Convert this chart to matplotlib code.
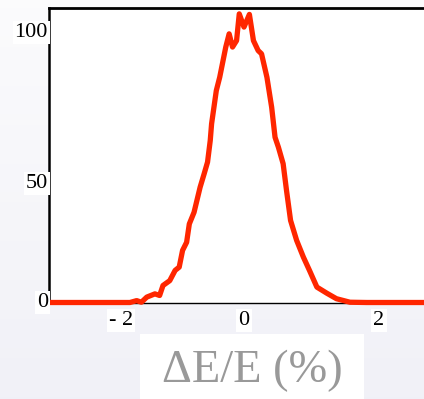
import numpy as np
import matplotlib
matplotlib.use("Agg")
import matplotlib.pyplot as plt
from matplotlib.patches import Rectangle
import matplotlib.transforms as mtransforms

# ---- data ----
de_pct = [-2.89, -1.99, -1.69, -1.59, -1.52, -1.44, -1.32, -1.25, -1.20, -1.10,
          -1.02, -0.96, -0.91, -0.85, -0.81, -0.74, -0.65, -0.59, -0.54, -0.50,
          -0.48, -0.41, -0.36, -0.27, -0.22, -0.17, -0.11, -0.07, 0.00, 0.08,
          0.14, 0.21, 0.26, 0.34, 0.41, 0.46, 0.51, 0.58, 0.63, 0.69,
          0.78, 0.88, 0.97, 1.08, 1.23, 1.37, 1.57, 1.82, 2.67]
counts = [0.0, 0.0, 0.0, 0.7, 0.1, 2.0, 3.2, 2.6, 6.3, 8.1,
          11.9, 13.1, 19.3, 22.3, 29.1, 33.4, 42.7, 47.7, 52.0, 60.0,
          66.2, 78.5, 83.4, 94.6, 99.5, 94.6, 97.0, 106.9, 102.0, 106.7,
          97.0, 93.3, 92.1, 83.4, 72.3, 61.2, 57.5, 51.4, 41.5, 30.4,
          23.0, 16.8, 11.9, 5.7, 3.4, 1.4, 0.1, 0.0, 0.0]
xtick_pos = [-1.82, 0.0, 2.0]
xtick_labels = ["- 2", "0", "2"]
ytick_pos = [0.0, 44.0, 100.0]
ytick_labels = ["0", "50", "100"]
xlabel = "ΔE/E (%)"

W, H = 424, 399
fig = plt.figure(figsize=(W / 100, H / 100), dpi=100)
plt.rcParams['font.family'] = ['Liberation Serif', 'DejaVu Serif']

# background gradient
bg = fig.add_axes([0, 0, 1, 1], zorder=-10)
grad = np.linspace(0, 1, 256)[:, None]
c_top = np.array([0.985, 0.985, 0.99])
c_bot = np.array([0.945, 0.945, 0.97])
img = c_top[None, None, :] * (1 - grad[..., None]) + c_bot[None, None, :] * grad[..., None]
img = np.repeat(img, 2, axis=1)
bg.imshow(img, aspect='auto', extent=[0, 1, 0, 1])
bg.set_axis_off()

# main axes
left, right, top, bottom = 49, 424, 8, 302.5
ax = fig.add_axes([left / W, 1 - bottom / H, (right - left) / W, (bottom - top) / H])
ax.set_facecolor('white')
ax.plot(de_pct, counts, color='#ff2600', lw=3.8, solid_joinstyle='round',
        solid_capstyle='butt', zorder=3, clip_on=False)
ax.set_xlim(-2.889, 2.667)
ax.set_ylim(0, (bottom - top) / 2.7)
ax.spines['right'].set_visible(False)
ax.spines['top'].set_linewidth(2.0)
ax.spines['left'].set_linewidth(1.8)
ax.spines['bottom'].set_linewidth(1.0)
ax.set_xticks([])
ax.set_yticks([])

box = dict(facecolor='white', edgecolor='none', pad=1.5)
xtr = mtransforms.blended_transform_factory(ax.transData, ax.transAxes)
for p, lab in zip(xtick_pos, xtick_labels):
    ax.text(p, -0.062, lab, transform=xtr, ha='center', va='center',
            fontsize=16, color='black', bbox=box, clip_on=False)
ytr = mtransforms.blended_transform_factory(ax.transAxes, ax.transData)
for p, lab in zip(ytick_pos, ytick_labels):
    ax.text(-0.003, p, lab, transform=ytr, ha='right', va='center',
            fontsize=16, color='black', bbox=box, clip_on=False)

# x label with white panel
fig.patches.append(Rectangle((140 / W, 0), (364 - 140) / W, (H - 334) / H,
                             transform=fig.transFigure, facecolor='white',
                             edgecolor='none', zorder=1))
fig.text(252 / W, 1 - 371 / H, xlabel, ha='center', va='center',
         fontsize=33.5, color='#999999', zorder=2)

fig.savefig('out.png', dpi=100)
